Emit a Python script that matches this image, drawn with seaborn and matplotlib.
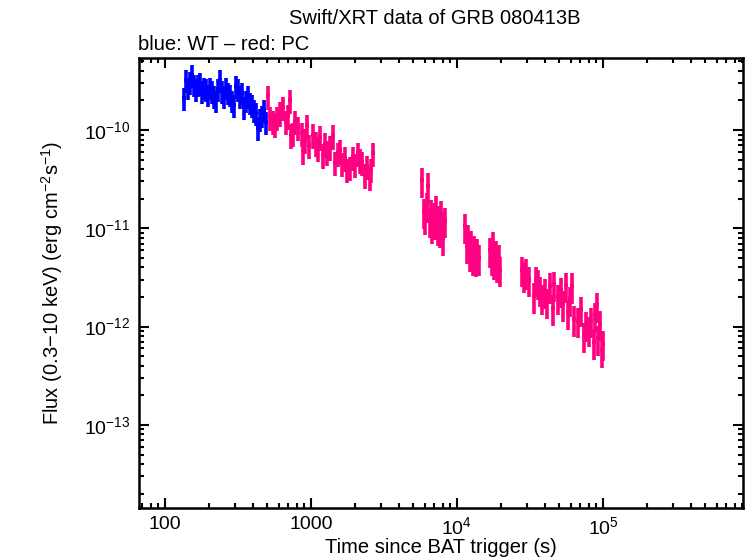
import numpy as np
import pandas as pd
import matplotlib
matplotlib.use("Agg")
import matplotlib.pyplot as plt
import matplotlib.ticker as mticker
import seaborn as sns

# ---------------- data ----------------
wt_time = [135, 139, 144, 148, 153, 158, 163, 168, 174, 179, 185, 191, 197, 203,
           210, 217, 223, 231, 238, 246, 254, 262, 270, 279, 288, 297, 306, 316,
           326, 337, 348, 359, 370, 382, 394, 407, 420, 434, 448, 462, 477, 492]
wt_flux_e10 = [2.1, 3.2, 2.7, 3.1, 3.6, 2.9, 2.6, 2.9, 3.0, 2.5, 2.7, 2.6, 2.3, 2.7,
               2.5, 2.2, 2.0, 2.6, 3.2, 2.5, 2.2, 2.7, 2.4, 2.3, 2.0, 1.8, 2.8, 2.6,
               2.2, 2.4, 1.7, 2.0, 2.2, 1.9, 1.8, 1.6, 1.5, 1.05, 1.3, 1.4, 1.6, 1.2]

pc1_time = [508, 524, 549, 566, 585, 613, 643, 674, 696, 718, 729, 753, 777, 815,
            867, 881, 910, 939, 969, 1032, 1082, 1117, 1152, 1208, 1247, 1287,
            1349, 1415, 1460, 1531, 1580, 1631, 1710, 1765, 1849, 1940, 1999,
            2099, 2165, 2234, 2344, 2420, 2535, 2580, 2660]
pc1_flux_e11 = [22, 13.5, 12.3, 11.5, 13.5, 15, 17, 12.3, 14, 20, 8.9, 9.3, 12.3, 10.7,
                9.3, 6.1, 8.0, 11.2, 7.0, 8.9, 7.4, 6.5, 8.5, 5.6, 7.2, 6.0,
                6.8, 8.7, 4.7, 5.8, 6.2, 4.6, 5.2, 4.0, 4.2, 5.3, 4.5,
                5.8, 5.0, 4.7, 3.5, 4.3, 3.3, 4.0, 5.8]

pc2_time = [5800, 5940, 6080, 6220, 6370, 6510, 6650, 6790, 6940, 7080, 7220,
            7360, 7500, 7650, 7790, 7930, 8080, 8220]
pc2_flux_e11 = [3.1, 1.5, 1.3, 1.7, 2.7, 1.2, 1.45, 1.05, 1.35, 1.15, 1.6,
                1.0, 1.25, 0.95, 1.4, 1.1, 0.8, 1.2]

pc3_time = [11400, 11700, 11970, 12250, 12540, 12830, 13110, 13400, 13680, 14060,
            16900, 17300, 17670, 18050, 18430, 18810, 19290, 19760,
            28000, 29000, 29900, 30900]
pc3_flux_e12 = [10.5, 6.5, 8.0, 5.5, 7.0, 5.0, 6.2, 4.8, 5.8, 5.0,
                6.0, 5.0, 6.8, 4.5, 5.5, 4.2, 5.0, 3.8,
                3.8, 3.3, 3.6, 3.0]

pc4_time = [33700, 34700, 35700, 37050, 38500, 40100, 41300, 43200, 45400, 46500,
            48900, 51500, 53200, 55700, 57500, 59400, 61200, 63600, 67300, 70300,
            73900, 77000, 80500, 83200, 86500, 88800, 91000, 92600, 95000,
            97900, 100700]
pc4_flux_e12 = [2.05, 3.0, 2.8, 2.4, 2.0, 2.3, 1.8, 2.6, 1.55, 2.7,
                2.0, 2.35, 1.7, 2.65, 1.4, 1.9, 2.6, 1.2, 1.15, 1.5,
                0.82, 1.05, 0.93, 1.15, 0.70, 1.3, 1.65, 0.76, 1.07,
                0.58, 0.67]

# typical relative half-lengths of the error bars
wt_rel_err = 0.26
pc_early_rel_err = 0.28
pc_late_rel_err = 0.34
rel_xerr = 0.012

xticks = [100, 1000, 1e4, 1e5]
xtick_labels = ["100", "1000", r"$10^{4}$", r"$10^{5}$"]
yticks = [1e-13, 1e-12, 1e-11, 1e-10]
ytick_labels = [r"$10^{-13}$", r"$10^{-12}$", r"$10^{-11}$", r"$10^{-10}$"]

# ---------------- tables ----------------
wt = pd.DataFrame({"time": wt_time, "flux": np.array(wt_flux_e10) * 1e-10})
wt["rel"] = wt_rel_err
pc_early = pd.DataFrame({"time": pc1_time, "flux": np.array(pc1_flux_e11) * 1e-11})
pc_early["rel"] = pc_early_rel_err
pc_late = pd.DataFrame({
    "time": pc2_time + pc3_time + pc4_time,
    "flux": np.concatenate([np.array(pc2_flux_e11) * 1e-11,
                            np.array(pc3_flux_e12) * 1e-12,
                            np.array(pc4_flux_e12) * 1e-12]),
})
pc_late["rel"] = pc_late_rel_err
pc = pd.concat([pc_early, pc_late], ignore_index=True)

BLUE = "#0000ff"
PINK = "#ff0080"

sns.set_style("ticks")
plt.rcParams["font.family"] = ["Liberation Sans", "DejaVu Sans"]
plt.rcParams["mathtext.fontset"] = "custom"
plt.rcParams["mathtext.rm"] = "Liberation Sans"
plt.rcParams["mathtext.it"] = "Liberation Sans:italic"
plt.rcParams["mathtext.bf"] = "Liberation Sans:bold"
plt.rcParams["text.color"] = "black"
plt.rcParams["axes.labelcolor"] = "black"
plt.rcParams["xtick.color"] = "black"
plt.rcParams["ytick.color"] = "black"

fig = plt.figure(figsize=(7.46, 5.58), dpi=100)
ax = fig.add_axes([139 / 746, 50 / 558, 604 / 746, 450 / 558])

for df, col in ((wt, BLUE), (pc, PINK)):
    err = df["flux"] * df["rel"]
    ax.errorbar(df["time"], df["flux"], yerr=[err, err],
                xerr=df["time"] * rel_xerr,
                fmt="none", ecolor=col, elinewidth=2.6, capsize=0)
    sns.scatterplot(data=df, x="time", y="flux", ax=ax, color=col,
                    marker="s", s=5, linewidth=0, legend=False)

ax.set_xscale("log")
ax.set_yscale("log")
ax.set_xlim(66.4, 9.1e5)
ax.set_ylim(1.43e-14, 5.4e-10)

ax.set_xticks(xticks)
ax.set_xticklabels(xtick_labels)
ax.set_yticks(yticks)
ax.set_yticklabels(ytick_labels)
ax.xaxis.set_minor_locator(mticker.LogLocator(base=10, subs=np.arange(2, 10), numticks=20))
ax.yaxis.set_minor_locator(mticker.LogLocator(base=10, subs=np.arange(2, 10), numticks=20))
ax.xaxis.set_minor_formatter(mticker.NullFormatter())
ax.yaxis.set_minor_formatter(mticker.NullFormatter())

ax.tick_params(which="both", direction="in", top=True, right=True,
               colors="black", labelcolor="black", labelsize=14, width=1.5)
ax.tick_params(which="major", length=7, pad=6)
ax.tick_params(which="minor", length=3.5)
for sp in ax.spines.values():
    sp.set_linewidth(1.8)
    sp.set_color("black")
    sp.set_visible(True)

ax.set_xlabel("Time since BAT trigger (s)", fontsize=14.5, labelpad=0, color="black")
ax.set_ylabel(r"Flux (0.3$-$10 keV) (erg cm$^{-2}$s$^{-1}$)", fontsize=14.5,
              labelpad=14, color="black")

fig.text(0.583, 0.966, "Swift/XRT data of GRB 080413B", ha="center", va="center",
         fontsize=14.5, color="black")
fig.text(0.185, 0.921, "blue: WT \u2013 red: PC", ha="left", va="center",
         fontsize=14.5, color="black")

fig.savefig("out.png", dpi=100, facecolor="white")
